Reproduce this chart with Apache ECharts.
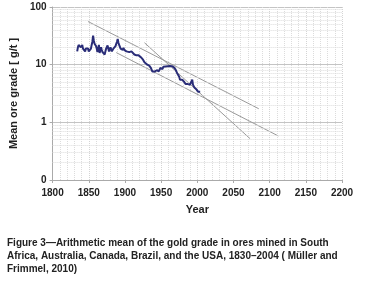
<!DOCTYPE html>
<html>
<head>
<meta charset="utf-8">
<script src="https://cdn.jsdelivr.net/npm/echarts@6/dist/echarts.min.js"></script>
<style>
  html, body { margin: 0; padding: 0; background: #fff; }
  #chart { width: 368px; height: 286px; }
</style>
</head>
<body>
<div id="chart"></div>
<script>
// gold grade (g/t) by year
var years = [1834, 1835, 1836, 1837, 1838, 1839, 1840, 1841, 1842, 1843, 1844, 1845, 1846, 1847, 1848, 1849, 1850, 1851, 1852, 1853,
  1854, 1855, 1856, 1857, 1858, 1859, 1860, 1861, 1862, 1863, 1864, 1865, 1866, 1867, 1868, 1869, 1870, 1871, 1872, 1873,
  1874, 1875, 1876, 1877, 1878, 1879, 1880, 1881, 1882, 1883, 1884, 1885, 1886, 1887, 1888, 1889, 1890, 1891, 1892, 1893,
  1894, 1895, 1896, 1897, 1898, 1899,
  1900, 1901, 1902, 1903, 1904, 1906, 1907, 1909, 1910, 1911, 1913, 1915, 1916, 1918, 1919, 1920, 1922, 1923, 1925, 1926,
  1927, 1928, 1929, 1931, 1932, 1934, 1935, 1936, 1937, 1938, 1939, 1940, 1941, 1942, 1943, 1944, 1945, 1946, 1947, 1948,
  1949, 1950, 1951, 1952, 1953, 1954, 1955, 1956, 1957, 1958, 1959, 1960, 1961, 1962, 1963, 1964, 1965, 1966, 1967, 1968,
  1969, 1970, 1971, 1972, 1973, 1974, 1975, 1976, 1977, 1978, 1979, 1980, 1981, 1982, 1983, 1984, 1985, 1986, 1987, 1988,
  1989, 1990, 1991, 1992, 1993, 1994, 1995, 1996, 1997, 1998, 1999, 2000, 2001, 2002, 2003, 2004];
var grade = [17, 20, 22, 21, 23, 20, 21, 22, 19, 20, 18, 17, 19, 20, 18, 19, 17, 18, 16.5, 19,
  22, 25, 32, 26, 23, 24, 21, 19, 16.5, 19, 22, 16, 18, 20, 18, 16.5, 17, 16, 15, 17,
  19, 20, 21.5, 19, 17, 18, 20, 19, 17, 17.5, 19, 20, 19, 21, 23, 25, 28, 24, 22, 21,
  19, 20, 19, 18, 19.5, 18,
  18, 19, 17, 17.5, 16, 16.5, 17.5, 17, 16, 16.5, 15, 15.5, 14.5, 14, 14.5, 15, 13.5, 13.8, 12.2, 12.5,
  11, 11.5, 11, 10, 10.3, 9.5, 9.7, 8.7, 8.3, 7.6, 7.4, 7.2, 7.6, 7.3, 7.8, 8.0, 8.4, 7.9, 7.7, 8.3,
  8.8, 8.4, 8.6, 8.4, 9.2, 9.0, 9.6, 9.3, 9.5, 9.9, 9.4, 9.3, 9.6, 9.5, 9.2, 9.6, 9.4, 9.1, 9.2, 8.9,
  8.6, 8.2, 7.8, 7.2, 7.0, 6.7, 6.2, 5.5, 5.7, 5.9, 5.5, 5.2, 5.3, 5.0, 4.9, 4.6, 4.7, 4.5, 4.6, 4.8,
  4.6, 4.5, 4.6, 4.8, 5.5, 4.5, 4.3, 4.0, 3.9, 3.8, 3.7, 3.5, 3.4, 3.5, 3.3, 3.4];

// trend lines: [year, grade] end points
var trendUpper = [[1849, 56], [2085, 1.72]];
var trendLower = [[1888, 16.2], [2112, 0.58]];
var trendSteep = [[1927, 24], [2073, 0.52]];

var yTicks = {0.1: '0', 1: '1', 10: '10', 100: '100'};
var minorGrades = [0.2, 0.3, 0.4, 0.5, 0.6, 0.7, 0.8, 0.9, 2, 3, 4, 5, 6, 7, 8, 9, 20, 30, 40, 50, 60, 70, 80, 90];

var caption = [
  'Figure 3\u2014Arithmetic mean of the gold grade in ores mined in South',
  'Africa, Australia, Canada, Brazil, and the USA, 1830\u20132004 ( M\u00fcller and',
  'Frimmel, 2010)'
];

var font = 'Liberation Sans, Arial, sans-serif';

function trend(pts) {
  return {
    type: 'line',
    data: pts,
    symbol: 'none',
    silent: true,
    lineStyle: { color: '#9a9a9a', width: 1 },
    z: 3
  };
}

var option = {
  backgroundColor: '#fff',
  animation: false,
  grid: { left: 46, right: 26, top: 7, bottom: 106 },
  xAxis: {
    type: 'value',
    min: 1800,
    max: 2200,
    interval: 50,
    name: 'Year',
    nameLocation: 'middle',
    nameGap: 24,
    nameTextStyle: { fontFamily: font, fontWeight: 'bold', fontSize: 11, color: '#222' },
    axisLine: { lineStyle: { color: '#aaa' } },
    axisTick: { show: true, length: 3, lineStyle: { color: '#aaa' } },
    axisLabel: {
      fontFamily: font, fontWeight: 'bold', fontSize: 10, color: '#222', margin: 8,
      formatter: function (v) { return String(v); }
    },
    splitLine: { show: true, lineStyle: { color: '#d4d4d4', type: 'dotted' } },
    minorTick: { show: false, splitNumber: 5 },
    minorSplitLine: { show: true, lineStyle: { color: '#dcdcdc', type: 'dotted' } }
  },
  yAxis: {
    type: 'log',
    logBase: 10,
    min: 0.1,
    max: 100,
    name: 'Mean ore grade [ g/t ]',
    nameLocation: 'middle',
    nameGap: 30,
    nameRotate: 90,
    nameTextStyle: { fontFamily: font, fontWeight: 'bold', fontSize: 11, color: '#222' },
    axisLine: { show: true, lineStyle: { color: '#aaa' } },
    axisTick: { show: true, length: 3, lineStyle: { color: '#aaa' } },
    axisLabel: {
      fontFamily: font, fontWeight: 'bold', fontSize: 10, color: '#222', margin: 6,
      formatter: function (v) { return yTicks[+v.toPrecision(3)] || ''; }
    },
    splitLine: { show: true, lineStyle: { color: '#c4c4c4' } }
  },
  series: [
    {
      type: 'line',
      data: [],
      silent: true,
      markLine: {
        silent: true,
        symbol: 'none',
        label: { show: false },
        lineStyle: { color: '#dcdcdc', type: 'dotted', width: 1 },
        data: minorGrades.map(function (g) { return { yAxis: g }; })
      }
    },
    trend(trendUpper),
    trend(trendLower),
    trend(trendSteep),
    {
      type: 'line',
      data: years.map(function (y, i) { return [y, grade[i]]; }),
      symbol: 'none',
      lineStyle: { color: '#2a2d78', width: 2 },
      z: 5
    }
  ],
  graphic: caption.map(function (t, i) {
    return {
      type: 'text',
      left: 7,
      top: 238 + i * 13,
      style: { text: t, fontFamily: font, fontWeight: 'bold', fontSize: 10, fill: '#222' }
    };
  })
};

var myChart = echarts.init(document.getElementById('chart'));
myChart.setOption(option);
</script>
</body>
</html>
